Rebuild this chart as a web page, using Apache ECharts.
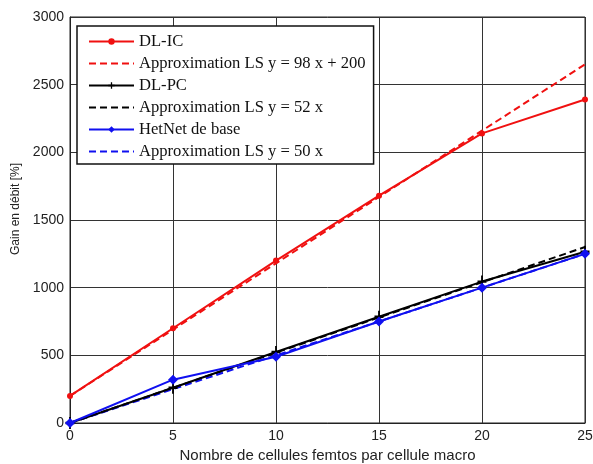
<!DOCTYPE html>
<html><head><meta charset="utf-8">
<script src="https://cdn.jsdelivr.net/npm/echarts@6/dist/echarts.min.js"></script>
<style>html,body{margin:0;padding:0;background:#fff}#c{width:593px;height:464px}</style>
</head><body><div id="c"></div>
<script>
var xValues = [0, 5, 10, 15, 20, 25];
var dlIC = [200, 700, 1200, 1680, 2140, 2390];
var dlICFit = [200, 690, 1180, 1670, 2160, 2650];
var dlPC = [0, 260, 525, 785, 1045, 1265];
var dlPCFit = [0, 260, 520, 780, 1040, 1300];
var hetNet = [0, 320, 490, 750, 1000, 1250];
var hetNetFit = [0, 250, 500, 750, 1000, 1250];
var names = ['DL-IC', 'Approximation LS y = 98 x + 200', 'DL-PC', 'Approximation LS y = 52 x', 'HetNet de base', 'Approximation LS y = 50 x'];

function pairs(ys){ return xValues.map(function(x,i){ return [x, ys[i]]; }); }
var plus = 'path://M4,0h2v4h4v2h-4v4h-2v-4h-4v-2h4z';
var hidden = {color: 'transparent', borderWidth: 0, opacity: 0};

var chart = echarts.init(document.getElementById('c'), null, {renderer:'canvas'});
chart.setOption({
  animation: false,
  backgroundColor: '#fff',
  grid: {left: 70, right: 8, top: 17, bottom: 41, show: true, borderColor: '#222', borderWidth: 1,
         containLabel: false, outerBoundsMode: 'none'},
  legend: {
    orient: 'vertical', left: 77, top: 26,
    backgroundColor: '#fff', borderColor: '#111', borderWidth: 1.5,
    padding: [7, 8, 4, 11], itemWidth: 45, itemHeight: 8, itemGap: 5,
    textStyle: {fontFamily: 'Liberation Serif', fontSize: 16.6, color: '#111'},
    data: [
      {name: names[0]},
      {name: names[1], itemStyle: hidden},
      {name: names[2]},
      {name: names[3], itemStyle: hidden},
      {name: names[4]},
      {name: names[5], itemStyle: hidden}
    ]
  },
  xAxis: {
    type: 'value', min: 0, max: 25, interval: 5,
    name: 'Nombre de cellules femtos par cellule macro', nameLocation: 'middle', nameGap: 22,
    nameTextStyle: {fontFamily: 'Liberation Sans', fontSize: 15, color: '#222'},
    axisLine: {show: true, lineStyle: {color: '#222'}},
    axisTick: {show: false},
    axisLabel: {fontFamily: 'Liberation Sans', fontSize: 14, color: '#222', margin: 6},
    splitLine: {show: true, lineStyle: {color: '#333', width: 1}}
  },
  yAxis: {
    type: 'value', min: 0, max: 3000, interval: 500,
    name: 'Gain en débit [%]', nameLocation: 'middle', nameGap: 46,
    nameTextStyle: {fontFamily: 'Liberation Sans', fontSize: 12, color: '#222', padding: [0, 0, 0, 22]},
    axisLine: {show: true, lineStyle: {color: '#222'}},
    axisTick: {show: false},
    axisLabel: {fontFamily: 'Liberation Sans', fontSize: 14, color: '#222', margin: 6,
      formatter: function(v){ return String(v); }},
    splitLine: {show: true, lineStyle: {color: '#333', width: 1}}
  },
  series: [
    {name: names[0], type: 'line', data: pairs(dlIC), color: '#f01010', symbol: 'circle', symbolSize: 6,
     lineStyle: {width: 2}, z: 5},
    {name: names[1], type: 'line', data: pairs(dlICFit), color: '#f01010', symbol: 'none',
     lineStyle: {width: 2, type: [7, 4]}, z: 4},
    {name: names[2], type: 'line', data: pairs(dlPC), color: '#000', symbol: plus, symbolSize: [9, 12],
     lineStyle: {width: 2}, z: 5},
    {name: names[3], type: 'line', data: pairs(dlPCFit), color: '#000', symbol: 'none',
     lineStyle: {width: 2, type: [7, 4]}, z: 4},
    {name: names[4], type: 'line', data: pairs(hetNet), color: '#1010f0', symbol: 'diamond', symbolSize: 10,
     lineStyle: {width: 2}, z: 6},
    {name: names[5], type: 'line', data: pairs(hetNetFit), color: '#1010f0', symbol: 'none',
     lineStyle: {width: 2, type: [7, 4]}, z: 4}
  ]
});
</script></body></html>
